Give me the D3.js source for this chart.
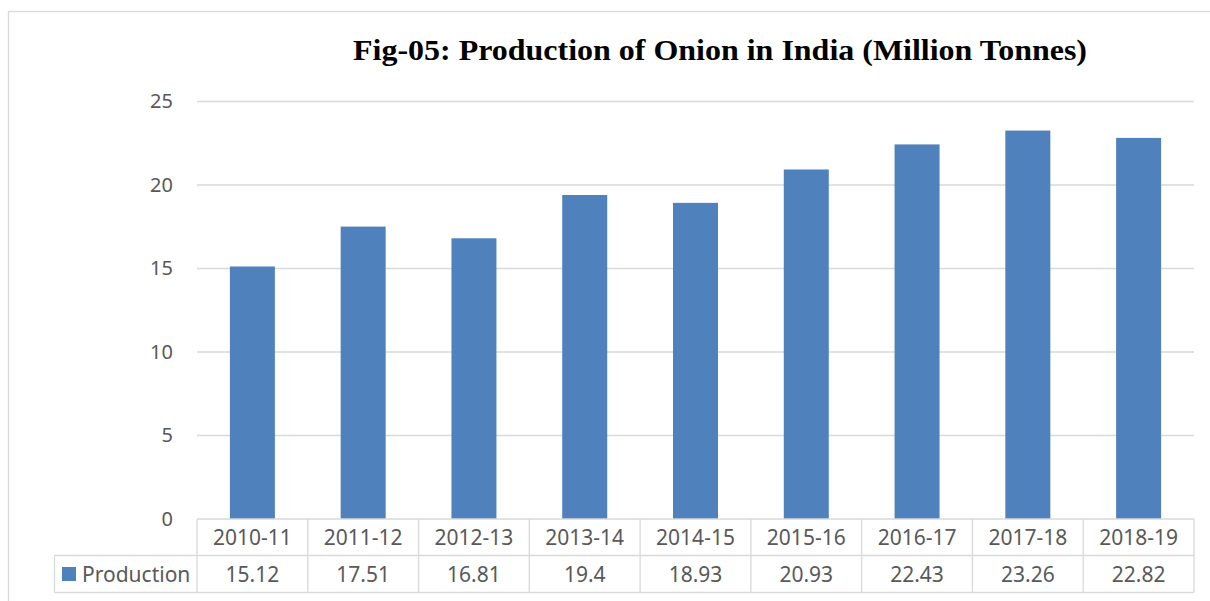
<!doctype html>
<html lang="en">
  <head>
    <meta charset="utf-8">
    <script src="https://d3js.org/d3.v7.min.js"></script>
    <title>Production of Onion in India</title>
    <style>
      body { margin: 0; background: #fff; }
      .tick text, .tbl text { font-family: "Noto Sans", "Open Sans", sans-serif; fill: #595959; }
      .grid line { stroke: #d9d9d9; stroke-width: 1.3px; }
    </style>
  </head>
  <body>
    <svg width="1210" height="601"></svg>
    <script>
      // data
      const years = ["2010-11", "2011-12", "2012-13", "2013-14", "2014-15", "2015-16", "2016-17", "2017-18", "2018-19"];
      const production = [15.12, 17.51, 16.81, 19.4, 18.93, 20.93, 22.43, 23.26, 22.82];
      const yTicks = [0, 5, 10, 15, 20, 25];
      const seriesName = "Production";

      const svg = d3.select("svg");
      const plotLeft = 197, plotRight = 1194, plotTop = 101.5, plotBottom = 519;
      const barColor = "#4f81bd";
      const lineColor = "#d9d9d9";

      // outer chart border
      svg.append("rect")
        .attr("x", 8.5).attr("y", 11.5)
        .attr("width", 1220).attr("height", 620)
        .attr("fill", "none").attr("stroke", lineColor).attr("stroke-width", 1.3);

      svg.append("text")
        .attr("x", 353).attr("y", 60)
        .attr("textLength", 734)
        .attr("lengthAdjust", "spacingAndGlyphs")
        .style("font-family", "'Liberation Serif', 'Times New Roman', serif")
        .style("font-weight", "bold")
        .style("font-size", "30px")
        .text("Fig-05: Production of Onion in India (Million Tonnes)");

      const x = d3.scaleBand().domain(years).range([plotLeft, plotRight]).paddingInner(0).paddingOuter(0);
      const y = d3.scaleLinear().domain([0, 25]).range([plotBottom, plotTop]);

      // gridlines
      svg.append("g").attr("class", "grid")
        .selectAll("line")
        .data(yTicks.filter(d => d > 0))
        .enter().append("line")
        .attr("x1", plotLeft).attr("x2", plotRight)
        .attr("y1", d => y(d)).attr("y2", d => y(d));

      // y axis labels
      const yAxis = svg.append("g")
        .attr("transform", `translate(${plotLeft},0)`)
        .call(d3.axisLeft(y).tickValues(yTicks).tickSize(0).tickPadding(24));
      yAxis.select(".domain").remove();
      yAxis.selectAll("text").style("font-size", "20px").attr("dy", "0.3em");

      // bars
      const barW = 45;
      svg.append("g")
        .selectAll("rect")
        .data(production)
        .enter().append("rect")
        .attr("x", (d, i) => x(years[i]) + x.bandwidth() / 2 - barW / 2)
        .attr("y", d => y(d))
        .attr("width", barW)
        .attr("height", d => y(0) - y(d))
        .attr("fill", barColor);

      // data table
      const tbl = svg.append("g").attr("class", "tbl");
      const row1 = plotBottom, row2 = 555.5, row3 = 592.5;
      const legendLeft = 54.5;

      tbl.selectAll("text.cat")
        .data(years)
        .enter().append("text")
        .attr("x", d => x(d) + x.bandwidth() / 2)
        .attr("y", 545)
        .attr("text-anchor", "middle")
        .style("font-size", "21px")
        .text(d => d);

      tbl.selectAll("text.val")
        .data(production)
        .enter().append("text")
        .attr("x", (d, i) => x(years[i]) + x.bandwidth() / 2)
        .attr("y", 582)
        .attr("text-anchor", "middle")
        .style("font-size", "21px")
        .text(d => d);

      // table lines
      const lines = tbl.append("g")
        .attr("stroke", lineColor).attr("stroke-width", 1.3);
      lines.append("line").attr("x1", plotLeft).attr("x2", plotRight).attr("y1", row1).attr("y2", row1);
      lines.append("line").attr("x1", legendLeft).attr("x2", plotRight).attr("y1", row2).attr("y2", row2);
      lines.append("line").attr("x1", legendLeft).attr("x2", plotRight).attr("y1", row3).attr("y2", row3);
      lines.append("line").attr("x1", legendLeft).attr("x2", legendLeft).attr("y1", row2).attr("y2", row3);
      lines.selectAll("line.v")
        .data(years.concat(["end"]))
        .enter().append("line")
        .attr("x1", (d, i) => i < years.length ? x(d) : plotRight)
        .attr("x2", (d, i) => i < years.length ? x(d) : plotRight)
        .attr("y1", row1).attr("y2", row3);

      // legend key
      tbl.append("rect")
        .attr("x", 62).attr("y", 567)
        .attr("width", 14).attr("height", 14)
        .attr("fill", barColor);
      tbl.append("text")
        .attr("x", 82).attr("y", 582)
        .style("font-size", "21px")
        .text(seriesName);
    </script>
  </body>
</html>
